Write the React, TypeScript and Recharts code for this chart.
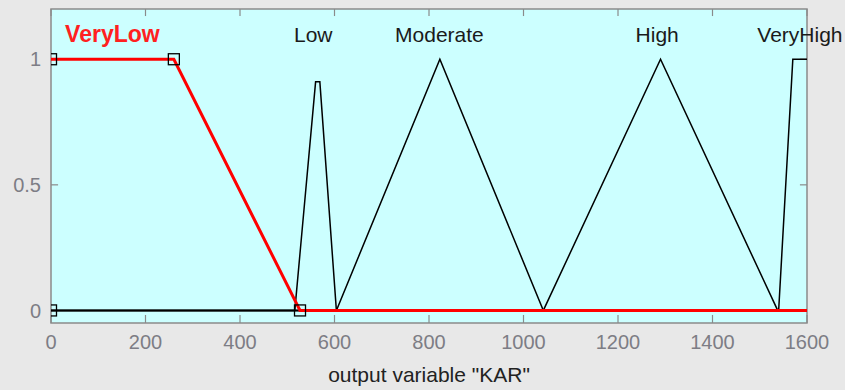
import {
  ComposedChart,
  Line,
  XAxis,
  YAxis,
  CartesianGrid,
  ReferenceLine,
  ReferenceArea,
  ReferenceDot,
} from "recharts";

const xTicks = [0, 200, 400, 600, 800, 1000, 1200, 1400, 1600];
const yTicks = [0, 0.5, 1];

// membership functions
const veryLowX = [0, 260, 527, 1600];
const veryLowY = [1, 1, 0, 0];
const lowX = [0, 516, 560, 569, 604, 1600];
const lowY = [0, 0, 0.91, 0.91, 0, 0];
const moderateX = [0, 604, 823, 1042, 1600];
const moderateY = [0, 0, 1, 0, 0];
const highX = [0, 1042, 1290, 1538, 1600];
const highY = [0, 0, 1, 0, 0];
const veryHighX = [0, 1540, 1570, 1600];
const veryHighY = [0, 0, 1, 1];

// square markers on the selected MF (params of VeryLow)
const markerX = [0, 0, 260, 527];
const markerY = [0, 1, 1, 0];

const mfNames = ["VeryLow", "Low", "Moderate", "High", "VeryHigh"];
const mfLabelX = [130, 555, 822, 1283, 1585];
const labelY = 1.1;

const toPts = (xs: number[], ys: number[]) => xs.map((x, i) => ({ x, y: ys[i] }));

const blackSeries = [
  toPts(lowX, lowY),
  toPts(moderateX, moderateY),
  toPts(highX, highY),
  toPts(veryHighX, veryHighY),
];

const font = "'Liberation Sans', Arial, sans-serif";

const Square = (props: any) => {
  const { cx, cy, index } = props;
  return (
    <rect
      key={"sq" + index}
      x={cx - 5.5}
      y={cy - 5.5}
      width={11}
      height={11}
      fill="none"
      stroke="#000"
      strokeWidth={1.3}
    />
  );
};

const App = () => {
  return (
    <div style={{ position: "absolute", left: 0, top: 0, width: 845, height: 390, background: "#e8e8e8" }}>
      <ComposedChart
        width={845}
        height={390}
        margin={{ top: 9, right: 38, left: 0, bottom: 0 }}
        style={{ fontFamily: font }}
      >
        <CartesianGrid fill="#ccffff" horizontal={false} vertical={false} />
        <XAxis
          type="number"
          dataKey="x"
          domain={[0, 1600]}
          ticks={xTicks}
          allowDataOverflow
          axisLine={false}
          tickLine={false}
          tickSize={0}
          tickMargin={12}
          height={67}
          tick={{ fill: "#7d7d85", fontSize: 20, fontFamily: font }}
          label={{
            value: 'output variable "KAR"',
            position: "insideBottom",
            offset: 8,
            fill: "#222",
            fontSize: 21,
            fontFamily: font,
          }}
        />
        <YAxis
          type="number"
          dataKey="y"
          domain={[-0.05, 1.2]}
          ticks={yTicks}
          allowDataOverflow
          axisLine={false}
          tickLine={false}
          tickSize={0}
          tickMargin={10}
          width={51}
          tick={{ fill: "#7d7d85", fontSize: 20, fontFamily: font }}
        />

        {xTicks.map((t) => (
          <ReferenceLine
            key={"bt" + t}
            segment={[{ x: t, y: -0.05 }, { x: t, y: -0.018 }]}
            stroke="#8a8a8a"
            strokeWidth={1.2}
          />
        ))}
        {xTicks.map((t) => (
          <ReferenceLine
            key={"tt" + t}
            segment={[{ x: t, y: 1.2 }, { x: t, y: 1.172 }]}
            stroke="#8a8a8a"
            strokeWidth={1.2}
          />
        ))}
        {yTicks.map((t) => (
          <ReferenceLine
            key={"lt" + t}
            segment={[{ x: 0, y: t }, { x: 15, y: t }]}
            stroke="#8a8a8a"
            strokeWidth={1.2}
          />
        ))}
        {yTicks.map((t) => (
          <ReferenceLine
            key={"rt" + t}
            segment={[{ x: 1585, y: t }, { x: 1600, y: t }]}
            stroke="#8a8a8a"
            strokeWidth={1.2}
          />
        ))}

        {blackSeries.map((pts, i) => (
          <Line
            key={"mf" + i}
            data={pts}
            dataKey="y"
            type="linear"
            stroke="#000"
            strokeWidth={1.5}
            dot={false}
            isAnimationActive={false}
          />
        ))}
        <Line
          data={toPts(veryLowX, veryLowY)}
          dataKey="y"
          type="linear"
          stroke="#ff0000"
          strokeWidth={3}
          dot={false}
          isAnimationActive={false}
        />
        <Line
          data={toPts(markerX, markerY)}
          dataKey="y"
          stroke="none"
          dot={Square}
          isAnimationActive={false}
        />

        {mfNames.map((name, i) => (
          <ReferenceDot
            key={name}
            x={mfLabelX[i]}
            y={labelY}
            r={0}
            stroke="none"
            fill="none"
            label={{
              value: name,
              position: "center",
              fill: i === 0 ? "#ff2020" : "#1a1a1a",
              fontSize: i === 0 ? 23 : 21,
              fontWeight: i === 0 ? "bold" : "normal",
              fontFamily: font,
            }}
          />
        ))}

        <ReferenceArea
          x1={0}
          x2={1600}
          y1={-0.05}
          y2={1.2}
          fill="none"
          stroke="#8a8a8a"
          strokeWidth={1.5}
        />
      </ComposedChart>
    </div>
  );
};

export default App;
